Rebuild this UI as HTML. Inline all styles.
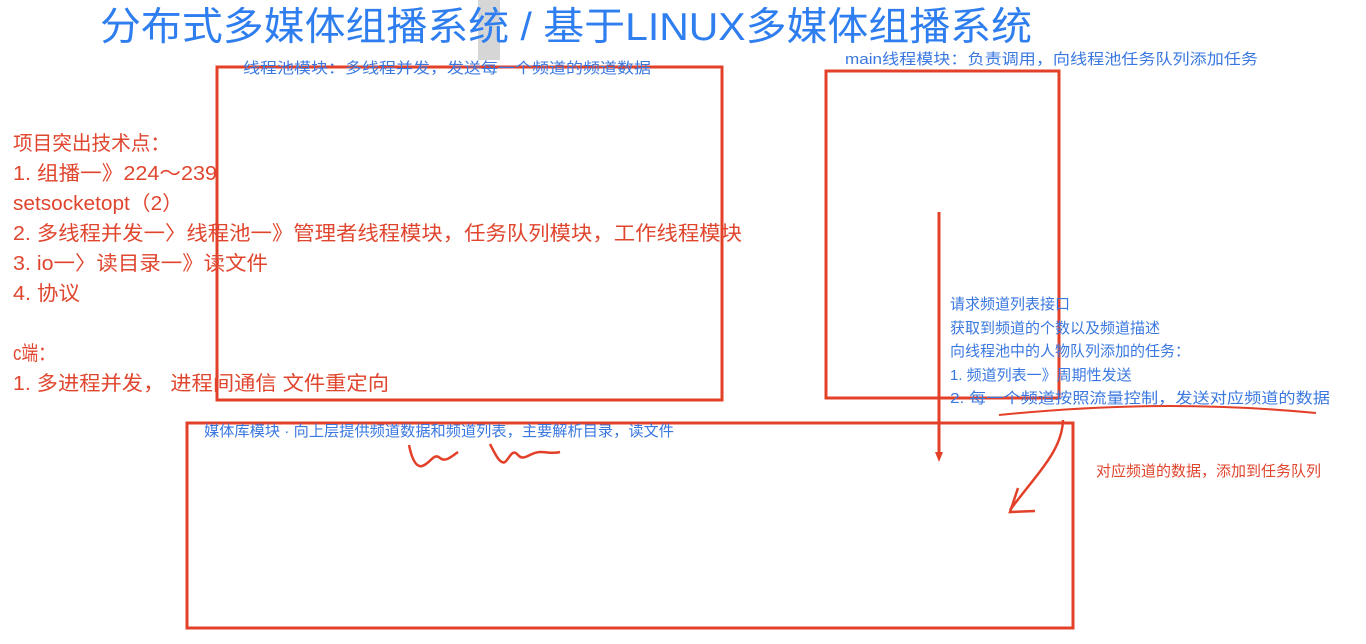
<!DOCTYPE html>
<html><head><meta charset="utf-8"><style>
html,body{margin:0;padding:0;background:#fff;width:1366px;height:644px;overflow:hidden}
svg{display:block}
text{font-family:"Liberation Sans","Noto Sans CJK SC",sans-serif}
.r{fill:#e0452e;font-size:20px}
.b{fill:#3a78e0;font-size:15px}
</style></head><body>
<svg width="1366" height="644" viewBox="0 0 1366 644">
<rect x="478" y="0" width="22" height="60" fill="#d6d6d6"/>
<text x="100" y="40" fill="#2f7ef0" style="font-size:39px" textLength="932" lengthAdjust="spacingAndGlyphs">分布式多媒体组播系统 / 基于LINUX多媒体组播系统</text>
<g fill="none" stroke="#e3402a" stroke-width="3">
<rect x="217" y="67" width="505" height="333"/>
<rect x="826" y="71" width="233" height="327"/>
<rect x="187" y="423" width="886" height="205"/>
<line x1="939" y1="212" x2="939" y2="455"/>
<path d="M999 415 C1100 405 1200 402 1316 413" stroke-width="2"/>
<path d="M1063 420 C1062 450 1040 470 1010 510" stroke-width="2.5"/>
<path d="M1018 488 L1010 512 L1035 511" stroke-width="2.5"/>
<path d="M409 445 C411 455 415 468 422 466 C430 464 434 452 440 458 C445 462 450 458 458 452" stroke-width="2.5"/>
<path d="M490 444 C494 452 500 465 505 462 C510 458 512 448 518 455 C524 462 530 452 540 452 C548 452 552 454 560 452" stroke-width="2.5"/>
</g>
<path d="M935 452 L943 452 L939 462 Z" fill="#e3402a"/>
<text class="b" x="243" y="73" textLength="408" lengthAdjust="spacingAndGlyphs">线程池模块：多线程并发，发送每一个频道的频道数据</text>
<text class="b" x="845" y="64" textLength="413" lengthAdjust="spacingAndGlyphs">main线程模块：负责调用，向线程池任务队列添加任务</text>
<text class="b" x="204" y="436" textLength="470" lengthAdjust="spacingAndGlyphs">媒体库模块  ·  向上层提供频道数据和频道列表，主要解析目录，读文件</text>
<text class="b" x="950" y="309">请求频道列表接口</text>
<text class="b" x="950" y="333">获取到频道的个数以及频道描述</text>
<text class="b" x="950" y="356">向线程池中的人物队列添加的任务：</text>
<text class="b" x="950" y="380">1. 频道列表一》周期性发送</text>
<text class="b" x="950" y="403" textLength="380" lengthAdjust="spacingAndGlyphs">2. 每一个频道按照流量控制，发送对应频道的数据</text>
<text class="r" x="1096" y="476" style="font-size:15px">对应频道的数据，添加到任务队列</text>
<text class="r" x="13" y="150" textLength="157" lengthAdjust="spacingAndGlyphs">项目突出技术点：</text>
<text class="r" x="13" y="180" textLength="204" lengthAdjust="spacingAndGlyphs">1. 组播一》224～239</text>
<text class="r" x="13" y="210" textLength="170" lengthAdjust="spacingAndGlyphs">setsocketopt（2）</text>
<text class="r" x="13" y="240" textLength="729" lengthAdjust="spacingAndGlyphs">2. 多线程并发一〉线程池一》管理者线程模块，任务队列模块，工作线程模块</text>
<text class="r" x="13" y="270" textLength="255" lengthAdjust="spacingAndGlyphs">3. io一〉读目录一》读文件</text>
<text class="r" x="13" y="300" textLength="67" lengthAdjust="spacingAndGlyphs">4. 协议</text>
<text class="r" x="13" y="360" textLength="42" lengthAdjust="spacingAndGlyphs">c端：</text>
<text class="r" x="13" y="390" textLength="376" lengthAdjust="spacingAndGlyphs">1. 多进程并发， 进程间通信 文件重定向</text>
</svg>
</body></html>
